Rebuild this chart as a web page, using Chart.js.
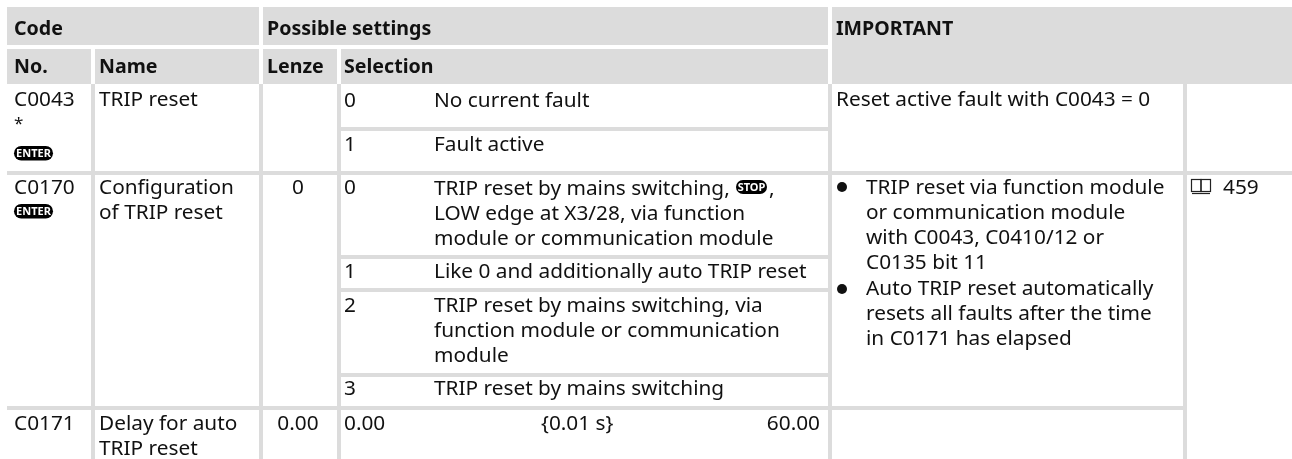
<!DOCTYPE html>
<html>
<head>
<meta charset="utf-8">
<title>Code table</title>
<style>
  html, body { margin: 0; padding: 0; background: #fff; }
  canvas { display: block; }
</style>
<script src="https://cdn.jsdelivr.net/npm/chart.js@4"></script>
</head>
<body>
<canvas id="codeTable" width="1292" height="459"></canvas>
<script>
// Table text
const headerLabels = ['Code', 'Possible settings', 'IMPORTANT', 'No.', 'Name', 'Lenze', 'Selection'];
const headerX = [14, 267, 836, 14, 99, 267, 344];
const headerY = [35, 35, 35, 73, 73, 73, 73];

const bodyLabels = [
  'C0043', 'TRIP reset', '0', 'No current fault', '1', 'Fault active', 'Reset active fault with C0043 = 0',
  'C0170', 'Configuration', 'of TRIP reset', '0',
  'TRIP reset by mains switching,', ',', 'LOW edge at X3/28, via function', 'module or communication module',
  '1', 'Like 0 and additionally auto TRIP reset',
  '2', 'TRIP reset by mains switching, via', 'function module or communication', 'module',
  '3', 'TRIP reset by mains switching',
  'TRIP reset via function module', 'or communication module', 'with C0043, C0410/12 or', 'C0135 bit 11',
  'Auto TRIP reset automatically', 'resets all faults after the time', 'in C0171 has elapsed',
  '459',
  'C0171', 'Delay for auto', 'TRIP reset', '0.00', '{0.01 s}'
];
const bodyX = [
  14, 99, 344, 434, 344, 434, 836,
  14, 99, 99, 344,
  434, 769, 434, 434,
  344, 434,
  344, 434, 434, 434,
  344, 434,
  866, 866, 866, 866,
  866, 866, 866,
  1223,
  14, 99, 99, 344, 541
];
const bodyY = [
  106, 106, 107, 107, 151, 151, 106,
  194, 194, 219, 194,
  195, 195, 220, 245,
  278, 278,
  312, 312, 337, 362,
  395, 395,
  194, 219, 243.5, 268.5,
  295, 320, 345,
  194,
  430, 430, 455, 430, 430
];

const starLabels = ['*'];
const starX = [14];
const starY = [129];

const centredLabels = ['0', '0.00'];
const centredX = [298, 298];
const centredY = [194, 430];
const rightLabels = ['60.00'];
const rightX = [820];
const rightY = [430];

// Grey cell bands: x0, x1, y middle, thickness
const bandX0 = [7, 263, 832, 7, 95, 263, 341];
const bandX1 = [259, 828, 1292, 91, 259, 337, 828];
const bandYm = [26, 26, 45.5, 66.5, 66.5, 66.5, 66.5];
const bandH = [38, 38, 77, 35, 35, 35, 35];

// Rules between cells
const vRuleX = [93, 261, 339, 830, 1185];
const hRuleY = [173, 408, 129, 257, 290, 375];
const hRuleX0 = [7, 7, 341, 341, 341, 341];
const hRuleX1 = [1292, 1187, 828, 828, 828, 828];

const bulletX = [842, 842];
const bulletY = [187, 289];

const pillLabels = ['ENTER', 'ENTER', 'STOP'];
const pillX = [14, 14, 736];
const pillY = [146, 204, 180];
const pillW = [39, 39, 31];
const pillH = [14.5, 14.5, 14];

const GREY = '#dcdcdc';
const INK = '#111';
const FONT = '"Noto Sans"';
const ruleW = 4;

const datasets = [];
bandX0.forEach((x0, i) => {
  datasets.push({
    data: [{ x: x0, y: bandYm[i] }, { x: bandX1[i], y: bandYm[i] }],
    borderColor: GREY, borderWidth: bandH[i], showLine: true, pointRadius: 0
  });
});
vRuleX.forEach(x => {
  datasets.push({
    data: [{ x: x, y: 84 }, { x: x, y: 459 }],
    borderColor: GREY, borderWidth: ruleW, showLine: true, pointRadius: 0
  });
});
hRuleY.forEach((y, i) => {
  datasets.push({
    data: [{ x: hRuleX0[i], y: y }, { x: hRuleX1[i], y: y }],
    borderColor: GREY, borderWidth: ruleW, showLine: true, pointRadius: 0
  });
});
datasets.push({
  data: bulletX.map((x, i) => ({ x: x, y: bulletY[i] })),
  showLine: false, pointRadius: 5, pointBackgroundColor: INK, pointBorderWidth: 0
});

const tableText = {
  id: 'tableText',
  afterDatasetsDraw(chart) {
    const { ctx, scales: { x, y } } = chart;
    const put = (labels, xs, ys, font, align) => {
      ctx.font = font;
      ctx.textAlign = align;
      ctx.textBaseline = 'alphabetic';
      ctx.fillStyle = INK;
      labels.forEach((t, i) => ctx.fillText(t, x.getPixelForValue(xs[i]), y.getPixelForValue(ys[i])));
    };
    ctx.save();
    put(headerLabels, headerX, headerY, '700 19.6px ' + FONT, 'left');
    put(bodyLabels, bodyX, bodyY, '400 20.8px ' + FONT, 'left');
    put(starLabels, starX, starY, '400 17px ' + FONT, 'left');
    put(centredLabels, centredX, centredY, '400 20.8px ' + FONT, 'center');
    put(rightLabels, rightX, rightY, '400 20.8px ' + FONT, 'right');

    // ENTER / STOP keys
    pillLabels.forEach((t, i) => {
      const px = x.getPixelForValue(pillX[i]), py = y.getPixelForValue(pillY[i]);
      ctx.fillStyle = '#000';
      ctx.beginPath();
      ctx.roundRect(px, py, pillW[i], pillH[i], pillH[i] / 2);
      ctx.fill();
      ctx.fillStyle = '#fff';
      ctx.font = '700 11px ' + FONT;
      ctx.textAlign = 'center';
      ctx.textBaseline = 'middle';
      ctx.fillText(t, px + pillW[i] / 2, py + pillH[i] / 2 + 0.5);
    });

    // page reference book icon
    const bx = x.getPixelForValue(1191), by = y.getPixelForValue(179);
    ctx.strokeStyle = '#222';
    ctx.lineWidth = 1.2;
    ctx.strokeRect(bx + 0.5, by + 0.5, 9.5, 12);
    ctx.strokeRect(bx + 10, by + 0.5, 9.5, 12);
    ctx.beginPath();
    ctx.moveTo(bx + 1, by + 14.5);
    ctx.lineTo(bx + 19, by + 14.5);
    ctx.stroke();
    ctx.restore();
  }
};

new Chart(document.getElementById('codeTable').getContext('2d'), {
  type: 'scatter',
  data: { datasets: datasets },
  options: {
    responsive: false,
    animation: false,
    layout: { padding: 0, autoPadding: false },
    plugins: { legend: { display: false }, tooltip: { enabled: false } },
    scales: {
      x: { type: 'linear', min: 0, max: 1292, display: false },
      y: { type: 'linear', min: 0, max: 459, reverse: true, display: false }
    }
  },
  plugins: [tableText]
});
</script>
</body>
</html>
